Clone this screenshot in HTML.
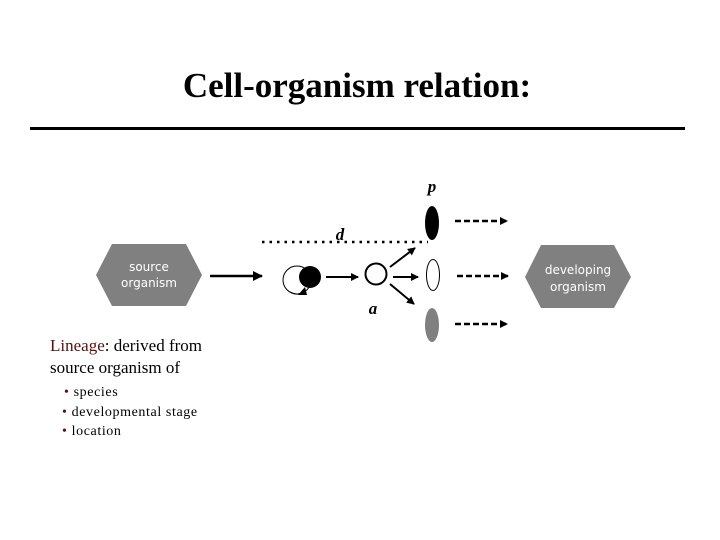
<!DOCTYPE html>
<html><head><meta charset="utf-8"><style>
html,body{margin:0;padding:0;background:#fff;width:720px;height:540px;overflow:hidden}
</style></head><body>
<svg width="720" height="540" viewBox="0 0 720 540" xmlns="http://www.w3.org/2000/svg">
<defs>
<marker id="ah" markerWidth="8" markerHeight="8" refX="7" refY="4" orient="auto" markerUnits="userSpaceOnUse">
<path d="M0,0 L8,4 L0,8 z" fill="#000"/></marker>
<marker id="ah2" markerWidth="10" markerHeight="10" refX="9" refY="5" orient="auto" markerUnits="userSpaceOnUse">
<path d="M0,0 L10,5 L0,10 z" fill="#000"/></marker>
</defs>
<text x="357" y="97" text-anchor="middle" font-family="Liberation Serif,serif" font-weight="bold" font-size="35">Cell-organism relation:</text>
<rect x="30" y="127" width="655" height="3" fill="#000"/>

<polygon points="96,275 112,244 186,244 202,275 186,306 112,306" fill="#808080"/>
<text x="149" y="271" text-anchor="middle" fill="#fff" font-family="DejaVu Sans,sans-serif" font-size="12">source</text>
<text x="149" y="287" text-anchor="middle" fill="#fff" font-family="DejaVu Sans,sans-serif" font-size="12">organism</text>

<polygon points="525,277 541,245 614,245 631,277 614,308 541,308" fill="#808080"/>
<text x="578" y="274" text-anchor="middle" fill="#fff" font-family="DejaVu Sans,sans-serif" font-size="12">developing</text>
<text x="578" y="291" text-anchor="middle" fill="#fff" font-family="DejaVu Sans,sans-serif" font-size="12">organism</text>

<line x1="210" y1="276" x2="262" y2="276" stroke="#000" stroke-width="2.5" marker-end="url(#ah2)"/>
<circle cx="297" cy="280" r="14" fill="none" stroke="#000" stroke-width="1"/>
<path d="M290,292 Q300,297 303,290" fill="none" stroke="#000" stroke-width="1"/>
<path d="M298,295 L305,287 L307,295 z" fill="#000"/>
<circle cx="310" cy="277" r="11" fill="#000"/>
<line x1="326" y1="277" x2="358" y2="277" stroke="#000" stroke-width="2" marker-end="url(#ah)"/>
<circle cx="376" cy="274" r="10.5" fill="#fff" stroke="#000" stroke-width="2"/>
<line x1="390" y1="267" x2="415" y2="248" stroke="#000" stroke-width="2" marker-end="url(#ah)"/>
<line x1="393" y1="277" x2="418" y2="277" stroke="#000" stroke-width="2" marker-end="url(#ah)"/>
<line x1="390" y1="284" x2="414" y2="304" stroke="#000" stroke-width="2" marker-end="url(#ah)"/>

<line x1="262" y1="242" x2="428" y2="242" stroke="#000" stroke-width="2.5" stroke-dasharray="2.5,5"/>
<text x="340" y="240" text-anchor="middle" font-family="Liberation Serif,serif" font-weight="bold" font-style="italic" font-size="17">d</text>
<text x="432" y="192" text-anchor="middle" font-family="Liberation Serif,serif" font-weight="bold" font-style="italic" font-size="17">p</text>
<text x="373" y="314" text-anchor="middle" font-family="Liberation Serif,serif" font-weight="bold" font-style="italic" font-size="17">a</text>

<ellipse cx="432" cy="223" rx="7" ry="17" fill="#000"/>
<ellipse cx="433" cy="275" rx="6.5" ry="15.5" fill="#fff" stroke="#000" stroke-width="1"/>
<ellipse cx="432" cy="325" rx="7" ry="17" fill="#808080"/>

<line x1="455" y1="221" x2="507" y2="221" stroke="#000" stroke-width="2.5" stroke-dasharray="6,3" marker-end="url(#ah)"/>
<line x1="457" y1="276" x2="508" y2="276" stroke="#000" stroke-width="2.5" stroke-dasharray="6,3" marker-end="url(#ah)"/>
<line x1="455" y1="324" x2="507" y2="324" stroke="#000" stroke-width="2.5" stroke-dasharray="6,3" marker-end="url(#ah)"/>

<text x="50" y="351" font-family="Liberation Serif,serif" font-size="17"><tspan fill="#5a1010">Lineage</tspan>: derived from</text>
<text x="50" y="373" font-family="Liberation Serif,serif" font-size="17">source organism of</text>
<text font-family="Liberation Serif,serif" font-size="14" letter-spacing="0.6">
<tspan x="64" y="396"><tspan fill="#5a1010">•</tspan> species</tspan>
<tspan x="62" y="416"><tspan fill="#5a1010">•</tspan> developmental stage</tspan>
<tspan x="62" y="435"><tspan fill="#5a1010">•</tspan> location</tspan>
</text>
</svg>
</body></html>
